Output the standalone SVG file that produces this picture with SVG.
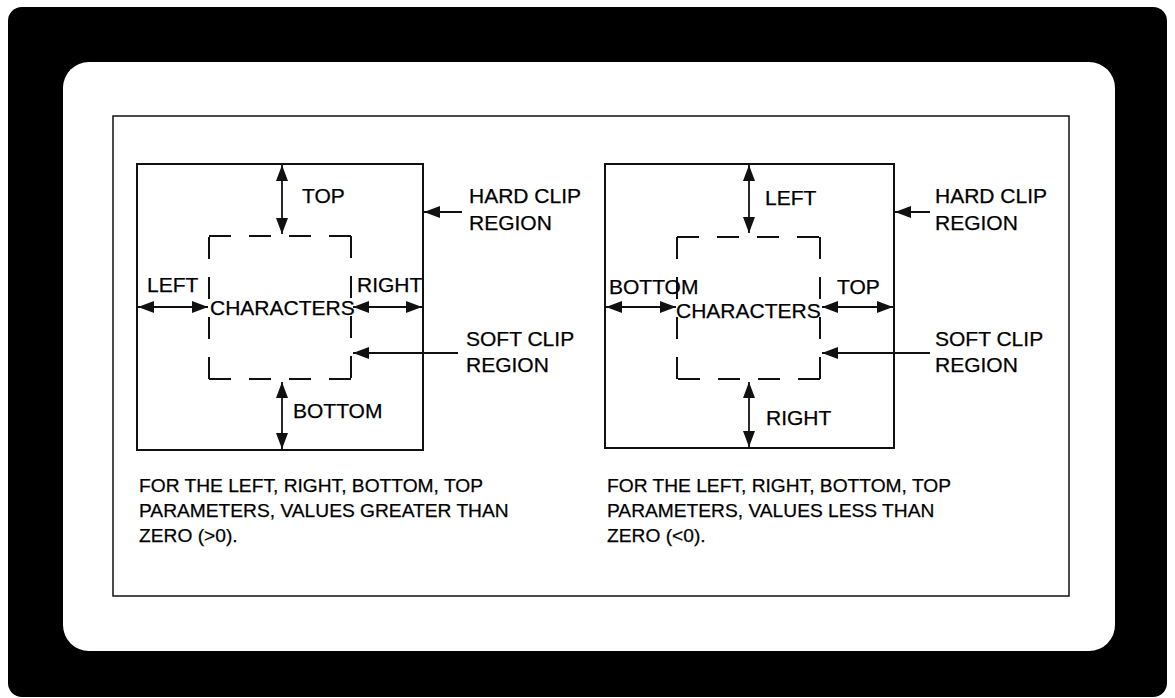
<svg xmlns="http://www.w3.org/2000/svg" width="1175" height="698" viewBox="0 0 1175 698">
<style>
text{font-family:"Liberation Sans",Arial,sans-serif;fill:#000;stroke:#000;stroke-width:0.25;}
.lbl{font-size:21px;}
.body{font-size:19.2px;}
.frame{fill:none;stroke:#111;stroke-width:2;}
.dash{fill:none;stroke:#111;stroke-width:2;stroke-dasharray:22 18;}
.arr{stroke:#111;stroke-width:1.8;fill:none;}
</style>
<defs>
<marker id="ah" viewBox="0 0 16 12" refX="16" refY="6" markerWidth="16" markerHeight="12" markerUnits="userSpaceOnUse" orient="auto-start-reverse">
<path d="M0,0 L16,6 L0,12 z" fill="#111"/>
</marker>
</defs>
<rect x="0" y="0" width="1175" height="698" fill="#fff"/>
<rect x="8" y="7" width="1159" height="690" rx="14" fill="#000"/>
<rect x="63" y="62" width="1052" height="589" rx="26" fill="#fff"/>
<rect x="113" y="116" width="956" height="480" fill="none" stroke="#111" stroke-width="1.5"/>

<g id="left-panel">
<rect class="frame" x="137" y="164" width="286" height="286"/>
<g id="left-soft">
<line class="dash" x1="209" y1="236" x2="351" y2="236"/>
<line class="dash" x1="351" y1="236" x2="351" y2="379"/>
<line class="dash" x1="351" y1="379" x2="209" y2="379"/>
<line class="dash" x1="209" y1="379" x2="209" y2="236"/>
</g>
<text class="lbl" x="302" y="203">TOP</text>
<text class="lbl" x="147" y="292">LEFT</text>
<text class="lbl" x="357" y="292">RIGHT</text>
<text class="lbl" x="210" y="315">CHARACTERS</text>
<text class="lbl" x="293" y="418">BOTTOM</text>
<text class="lbl" x="469" y="203">HARD CLIP</text>
<text class="lbl" x="469" y="230">REGION</text>
<text class="lbl" x="466" y="346">SOFT CLIP</text>
<text class="lbl" x="466" y="372">REGION</text>
<text class="body" x="139" y="492">FOR THE LEFT, RIGHT, BOTTOM, TOP</text>
<text class="body" x="139" y="517">PARAMETERS, VALUES GREATER THAN</text>
<text class="body" x="139" y="542">ZERO (&gt;0).</text>
</g>

<g id="right-panel">
<rect class="frame" x="605" y="164" width="289" height="284"/>
<g id="right-soft">
<line class="dash" x1="677" y1="237" x2="820" y2="237"/>
<line class="dash" x1="820" y1="237" x2="820" y2="379"/>
<line class="dash" x1="820" y1="379" x2="677" y2="379"/>
<line class="dash" x1="677" y1="379" x2="677" y2="237"/>
</g>
<text class="lbl" x="765" y="205">LEFT</text>
<text class="lbl" x="609" y="294">BOTTOM</text>
<text class="lbl" x="837" y="294">TOP</text>
<text class="lbl" x="676" y="318">CHARACTERS</text>
<text class="lbl" x="766" y="425">RIGHT</text>
<text class="lbl" x="935" y="203">HARD CLIP</text>
<text class="lbl" x="935" y="230">REGION</text>
<text class="lbl" x="935" y="346">SOFT CLIP</text>
<text class="lbl" x="935" y="372">REGION</text>
<text class="body" x="607" y="492">FOR THE LEFT, RIGHT, BOTTOM, TOP</text>
<text class="body" x="607" y="517">PARAMETERS, VALUES LESS THAN</text>
<text class="body" x="607" y="542">ZERO (&lt;0).</text>
</g>

<g id="connectors">
<line class="arr" x1="282" y1="165" x2="282" y2="234" marker-start="url(#ah)" marker-end="url(#ah)"/>
<line class="arr" x1="282" y1="382" x2="282" y2="449" marker-start="url(#ah)" marker-end="url(#ah)"/>
<line class="arr" x1="138" y1="307" x2="208" y2="307" marker-start="url(#ah)" marker-end="url(#ah)"/>
<line class="arr" x1="353" y1="307" x2="422" y2="307" marker-start="url(#ah)" marker-end="url(#ah)"/>
<line class="arr" x1="462" y1="212" x2="424" y2="212" marker-end="url(#ah)"/>
<line class="arr" x1="458" y1="353" x2="353" y2="353" marker-end="url(#ah)"/>

<line class="arr" x1="749" y1="165" x2="749" y2="233" marker-start="url(#ah)" marker-end="url(#ah)"/>
<line class="arr" x1="749" y1="382" x2="749" y2="447" marker-start="url(#ah)" marker-end="url(#ah)"/>
<line class="arr" x1="606" y1="307" x2="676" y2="307" marker-start="url(#ah)" marker-end="url(#ah)"/>
<line class="arr" x1="822" y1="307" x2="893" y2="307" marker-start="url(#ah)" marker-end="url(#ah)"/>
<line class="arr" x1="930" y1="212" x2="895" y2="212" marker-end="url(#ah)"/>
<line class="arr" x1="930" y1="353" x2="822" y2="353" marker-end="url(#ah)"/>
</g>
</svg>
